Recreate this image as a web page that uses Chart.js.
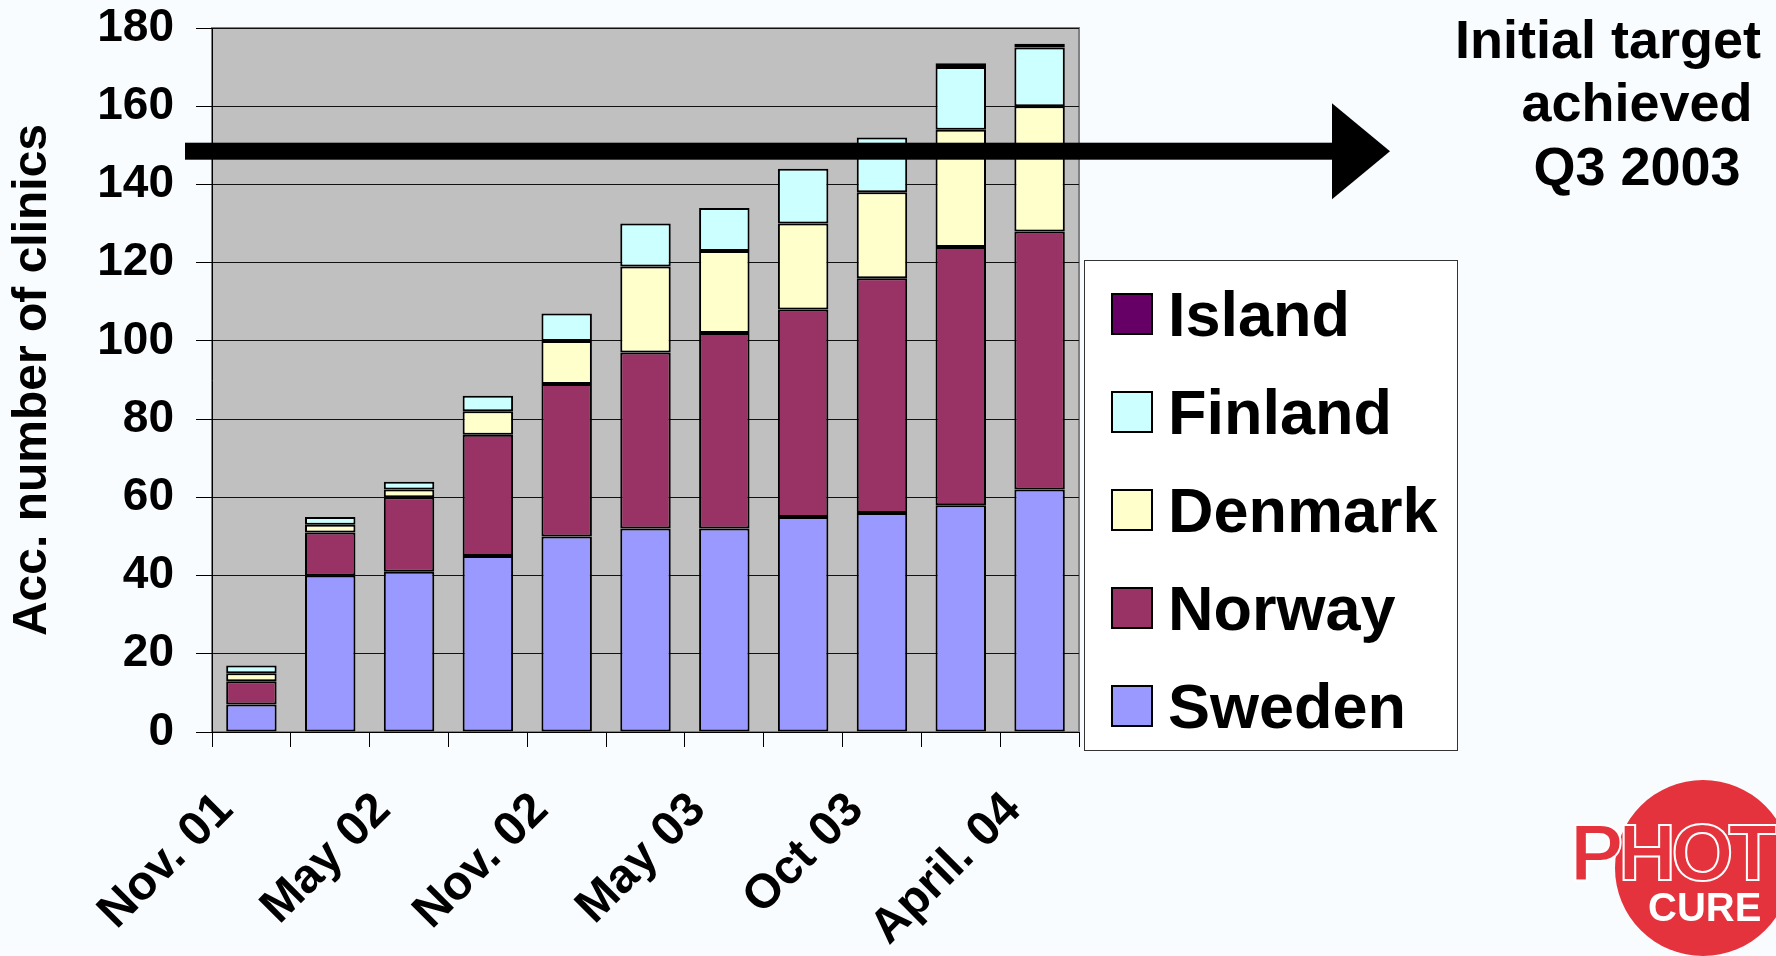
<!DOCTYPE html>
<html>
<head>
<meta charset="utf-8">
<script src="https://cdn.jsdelivr.net/npm/chart.js@4.4.0/dist/chart.umd.min.js"></script>
<style>
  body { margin: 0; background: #f9fcff; font-family: "Liberation Sans", Arial, sans-serif; }
  #page { position: relative; width: 1776px; height: 956px; overflow: hidden; }
  #chartBox { position: absolute; left: 0; top: 0; width: 1776px; height: 956px; }
  #legend { position: absolute; left: 1084px; top: 260px; width: 374px; height: 491px;
    background: #fff; border: 1px solid #333; box-sizing: border-box; padding-top: 4px; }
  .row { display: flex; align-items: center; height: 98px; padding-left: 26px;
    font-size: 63px; font-weight: bold; color: #000; line-height: 98px; }
  .sw { width: 38px; height: 38px; border: 2px solid #000; margin-right: 15px; flex: none; }
  .note { position: absolute; width: 400px; text-align: center; font-size: 54px;
    font-weight: bold; line-height: 63px; color: #000; white-space: nowrap; }
  #logo .disc { position: absolute; left: 1615px; top: 780px; width: 176px; height: 176px;
    border-radius: 50%; background: #e4333c; }
  #logo .phot { position: absolute; left: 1570px; top: 812px; font-size: 80px; font-weight: bold;
    color: #e4333c; -webkit-text-stroke: 2px #fff; letter-spacing: -5px; line-height: 82px; }
  #logo .cure { position: absolute; left: 1648px; top: 886px; font-size: 40px; font-weight: bold;
    color: #fff; line-height: 42px; }
</style>
</head>
<body>
<div id="page">
  <div id="chartBox"><canvas id="clinicsChart"></canvas></div>
  <div class="note" style="left:1408px; top:8px;">Initial target</div>
  <div class="note" style="left:1437px; top:71px;">achieved</div>
  <div class="note" style="left:1437px; top:135px;">Q3 2003</div>
  <div id="legend"></div>
  <div id="logo"><div class="disc"></div><span class="phot">PHOT</span><span class="cure">CURE</span></div>
</div>
<script>
// data (accumulated clinics per country)
const periods = ['Nov. 01', '', 'May 02', '', 'Nov. 02', '', 'May 03', '', 'Oct 03', '', 'April. 04'];
const sweden  = [7, 40, 41, 45, 50, 52, 52, 55, 56, 58, 62];
const norway  = [6, 11, 19, 31, 39, 45, 50, 53, 60, 66, 66];
const denmark = [2, 2, 2, 6, 11, 22, 21, 22, 22, 30, 32];
const finland = [2, 2, 2, 4, 7, 11, 11, 14, 14, 16, 15];
const island  = [0, 0, 0, 0, 0, 0, 0, 0, 0, 1, 1];
const yMax = 180;
const yStep = 20;
const targetLevel = 148.5;

const countries = [
  { label: 'Sweden',  data: sweden,  color: '#9999ff' },
  { label: 'Norway',  data: norway,  color: '#993366' },
  { label: 'Denmark', data: denmark, color: '#ffffcc' },
  { label: 'Finland', data: finland, color: '#ccffff' },
  { label: 'Island',  data: island,  color: '#660066' },
];

const bold = size => ({ family: '"Liberation Sans", Arial, sans-serif', size, weight: 'bold' });

// grey plot area with a thin frame, like the Excel chart
const plotBackground = {
  id: 'plotBackground',
  beforeDraw(chart) {
    const { ctx, chartArea: a } = chart;
    ctx.save();
    ctx.fillStyle = '#c0c0c0';
    ctx.fillRect(a.left, a.top, a.width, a.height);
    ctx.strokeStyle = '#808080';
    ctx.lineWidth = 2;
    ctx.strokeRect(a.left, a.top, a.width, a.height);
    ctx.restore();
  }
};

// the big "target" arrow across the chart
const targetArrow = {
  id: 'targetArrow',
  afterDraw(chart) {
    const { ctx, chartArea: a, scales: { y } } = chart;
    const yPx = y.getPixelForValue(targetLevel);
    const start = a.left - 27;
    const headStart = a.right + 253;
    const tip = a.right + 311;
    ctx.save();
    ctx.fillStyle = '#000';
    ctx.fillRect(start, yPx - 8.5, headStart - start + 2, 17);
    ctx.beginPath();
    ctx.moveTo(headStart, yPx - 48);
    ctx.lineTo(tip, yPx);
    ctx.lineTo(headStart, yPx + 48);
    ctx.closePath();
    ctx.fill();
    ctx.restore();
  }
};

new Chart(document.getElementById('clinicsChart'), {
  type: 'bar',
  data: {
    labels: periods,
    datasets: countries.map(c => ({
      label: c.label,
      data: c.data,
      backgroundColor: c.color,
      borderColor: '#000',
      borderWidth: 2,
      borderSkipped: false,
      categoryPercentage: 1,
      barPercentage: 0.64,
    })),
  },
  options: {
    responsive: true,
    maintainAspectRatio: false,
    animation: false,
    layout: { padding: { top: 28, right: 697, left: 0, bottom: 0 } },
    plugins: { legend: { display: false }, tooltip: { enabled: false } },
    scales: {
      x: {
        stacked: true,
        afterFit: s => { s.height = 224; },
        grid: { offset: true, drawOnChartArea: false, tickLength: 15, color: '#000' },
        border: { color: '#000', width: 1 },
        ticks: { font: bold(48), color: '#000', autoSkip: false, maxRotation: 45, minRotation: 45,
          padding: 35, labelOffset: -26 },
      },
      y: {
        stacked: true,
        min: 0,
        max: yMax,
        afterFit: s => { s.width = 212; s.paddingTop = 0; s.paddingBottom = 0; },
        grid: { color: '#111', tickLength: 16, tickColor: '#000' },
        border: { color: '#000', width: 1 },
        ticks: { stepSize: yStep, font: bold(46), color: '#000', padding: 22 },
        title: { display: true, text: 'Acc. number of clinics', font: bold(48), color: '#000', padding: { top: 4, bottom: 0 } },
      },
    },
  },
  plugins: [plotBackground, targetArrow],
});

// legend box, top to bottom in reverse stacking order
const legend = document.getElementById('legend');
countries.slice().reverse().forEach(c => {
  const row = document.createElement('div');
  row.className = 'row';
  row.innerHTML = `<span class="sw" style="background:${c.color}"></span>${c.label}`;
  legend.appendChild(row);
});
</script>
</body>
</html>
